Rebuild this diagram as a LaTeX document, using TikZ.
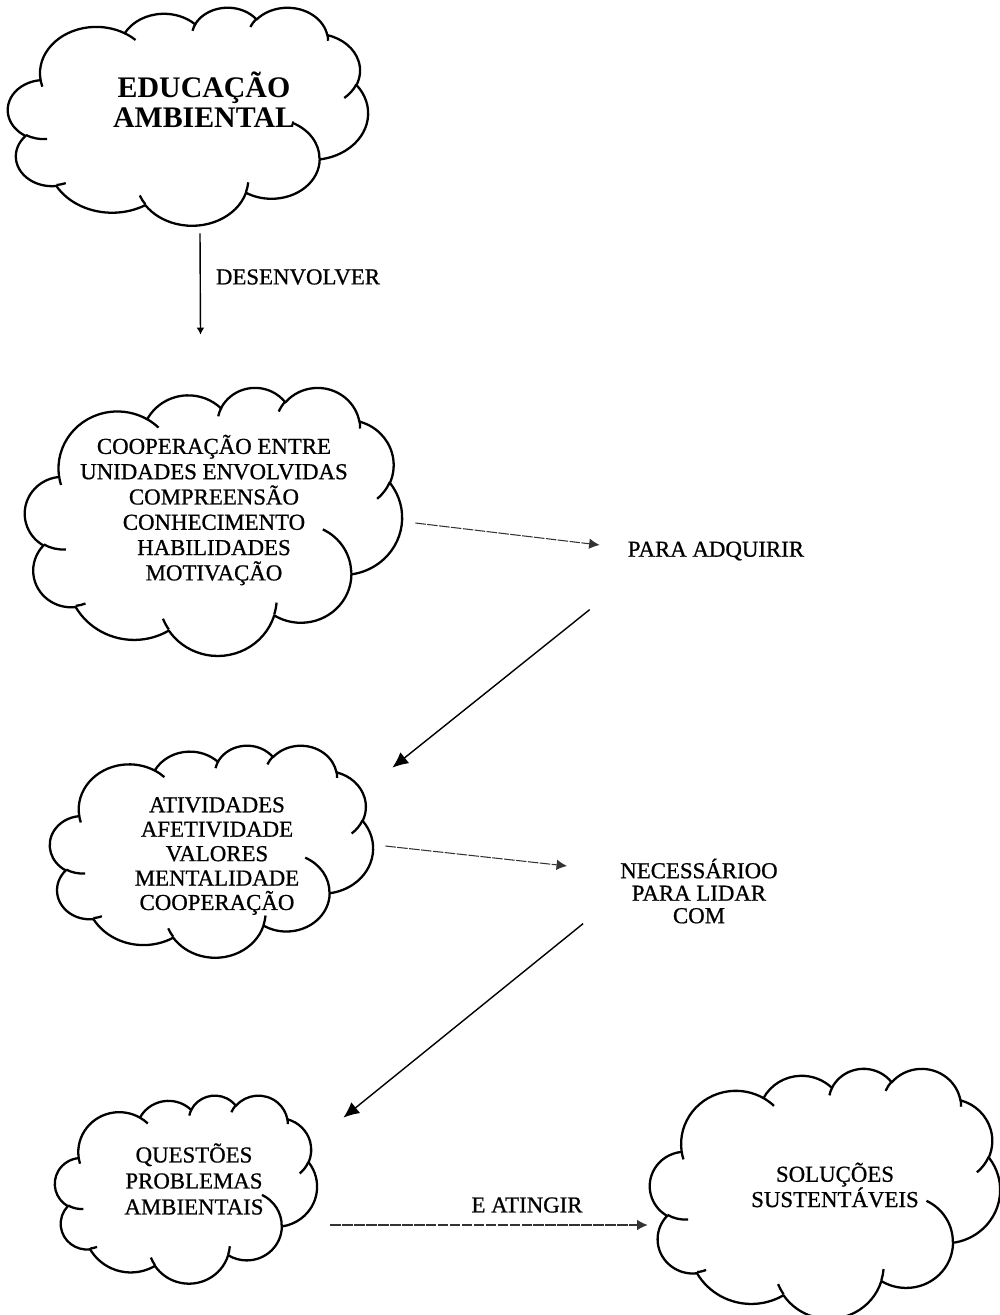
\documentclass[tikz,border=0pt]{standalone}
\usepackage{fontspec}
\setmainfont{Liberation Serif}
\usetikzlibrary{arrows.meta}

\newcommand\cloudarc[4]{arc[x radius=#1, y radius=#2,
  start angle={atan2((#1)*sin(#3),(#2)*cos(#3))},
  delta angle={mod(atan2((#1)*sin(#3+#4),(#2)*cos(#3+#4))-atan2((#1)*sin(#3),(#2)*cos(#3))+720,360)}]}

\newcommand\wordcloud[5]{%
  \node[inner sep=0pt, minimum width=#4*0.02cm, minimum height=#5*0.02cm] (#1) at ({#2+#4/2},{#3+#5/2}) {};
  \begin{scope}[shift={(#2,#3)}, xscale=#4/432, yscale=#5/432]
    \draw[cloud line] (39,143.7)
      \foreach \w/\h/\s/\d in {67.53/91.90/-190.4875/123.7805, 53.33/72.67/-144.1024/89.9452,
        43.65/59.45/-145.8079/99.7230, 48.57/65.95/-130.9861/117.2417, 53.33/72.73/-78.7089/109.0269,
        67.75/92.20/-46.2673/130.2690, 57.85/78.67/0.6250/114.0333, 67.52/92.15/22.4516/115.1726,
        77.20/105.43/66.2426/75.7110, 43.60/59.18/-274.9421/146.7356, 43.45/59.45/-246.8285/152.5189}
      {\cloudarc{\w}{\h}{\s}{\d}} -- cycle;
    \draw[cloud line]
      \foreach \px/\py/\w/\h/\s/\d in {46.93/261.77/43.45/59.45/86.7420/26.4295,
        69.28/348.99/43.60/59.18/73.6105/11.4475, 164.78/390.90/67.52/92.15/137.6242/14.0811,
        288.27/347.51/67.52/92.15/6.4533/15.9984, 341.29/229.54/57.85/78.67/-70.2924/70.9174,
        417.98/153.54/53.33/72.73/30.3180/27.7515, 383.24/54.26/48.57/65.95/-13.7443/14.8589,
        290.78/39.52/48.57/65.95/-149.1815/18.1954, 221.41/47.20/43.65/59.45/-163.4943/17.6864,
        140.00/51.92/67.53/91.90/-66.7070/12.3194, 41.27/157.89/67.53/91.90/157.6544/11.8582}
      {(\px,\py) \cloudarc{\w}{\h}{\s}{\d}};
  \end{scope}}

\begin{document}
\begin{tikzpicture}[x=0.02cm, y=-0.02cm,
  cloud line/.style={line width=1.3pt, line join=round},
  title/.style={font=\fontsize{17}{17}\selectfont\bfseries, align=center},
  word/.style={font=\fontsize{13}{14.4}\selectfont\addfontfeatures{FakeBold=0.8}, align=center},
  arr/.style={line width=0.8pt, -{Latex[length=9pt,width=8pt]}},
  faint/.style={line width=0.6pt, black!80, dash pattern=on 6pt off 0.8pt, -{Latex[length=6pt,width=6pt]}}]
\useasboundingbox (0,0) rectangle (1000,1315);

\wordcloud{edu}{8}{7}{360}{218}
\wordcloud{coop}{25}{387}{377}{268}
\wordcloud{ativ}{50}{745}{323}{212}
\wordcloud{quest}{55}{1095}{262}{188}
\wordcloud{sol}{650}{1068}{350}{250}

\node[title] (edut) at (204,100) {EDUCAÇÃO\\AMBIENTAL};
\node[word] (desenv) at (298,277) {DESENVOLVER};
\node[word] (coopt) at (214,510) {COOPERAÇÃO ENTRE\\UNIDADES ENVOLVIDAS\\COMPREENSÃO\\CONHECIMENTO\\HABILIDADES\\MOTIVAÇÃO};
\node[word] (adq) at (716,551) {PARA ADQUIRIR};
\node[word, font=\fontsize{13}{13.9}\selectfont\addfontfeatures{FakeBold=0.8}] (ativt) at (217,856) {ATIVIDADES\\AFETIVIDADE\\VALORES\\MENTALIDADE\\COOPERAÇÃO};
\node[word, font=\fontsize{13}{12.8}\selectfont\addfontfeatures{FakeBold=0.8}] (nec) at (699,891) {NECESSÁRIOO\\PARA LIDAR\\COM};
\node[word, font=\fontsize{13}{14.8}\selectfont\addfontfeatures{FakeBold=0.8}] (questt) at (194,1179) {QUESTÕES\\PROBLEMAS\\AMBIENTAIS};
\node[word] (ating) at (527,1205) {E ATINGIR};
\node[word] (solt) at (835,1185) {SOLUÇÕES\\SUSTENTÁVEIS};

\draw[line width=0.8pt, -{Latex[length=4pt,width=4.5pt]}] ([shift={(12,8)}]edu.south) -- ([shift={(-13,-52)}]coop.north);
\draw[faint] ([shift={(13,2)}]coop.east) -- ([shift={(-22,-6)}]adq.west);
\draw[arr] ([shift={(-32,43)}]adq.south west) -- ([shift={(19,23)}]ativ.north east);
\draw[faint] ([shift={(12,-5)}]ativ.east) -- ([shift={(-47,-25)}]nec.west);
\draw[arr] ([shift={(-31,-6)}]nec.south west) -- ([shift={(26,23)}]quest.north east);
\draw[faint] ([shift={(13,36)}]quest.east) -- ([shift={(-2,32)}]sol.west);
\end{tikzpicture}
\end{document}
